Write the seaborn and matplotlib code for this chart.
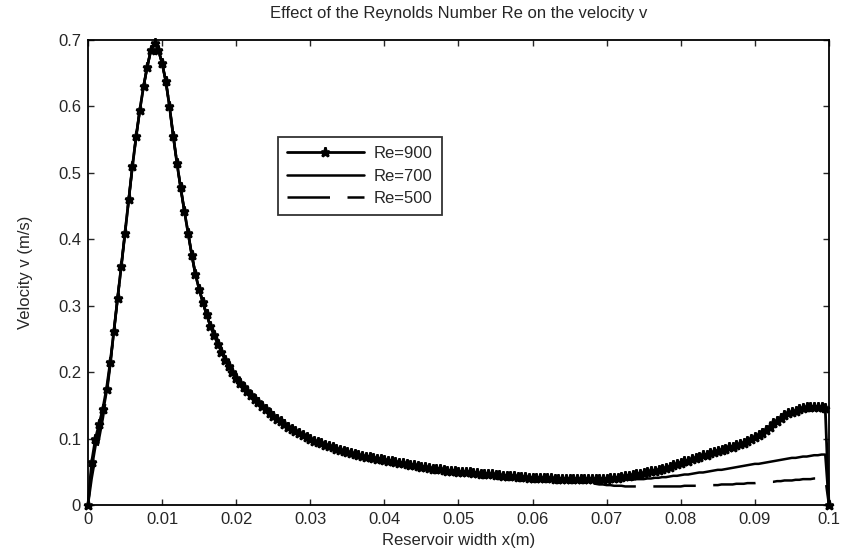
import numpy as np
import pandas as pd
import matplotlib
matplotlib.use("Agg")
import matplotlib.pyplot as plt
import seaborn as sns

# sampling grid of the solver (step 0.0005 m)
x_width = np.round(np.arange(201) * 0.0005, 4)

# first points near the wall (x = 0 .. 0.003)
head_900 = [0.000, 0.065, 0.100, 0.122, 0.145, 0.175, 0.215]
head_700 = [0.000, 0.055, 0.088, 0.112, 0.138, 0.170, 0.213]
head_500 = [0.000, 0.040, 0.072, 0.100, 0.130, 0.165, 0.210]

# common part of the three curves (x = 0.0035 .. 0.065)
mid_all = [
    0.262, 0.312, 0.360, 0.410, 0.460, 0.510, 0.555, 0.595, 0.630, 0.660,
    0.685, 0.695, 0.685, 0.665, 0.638, 0.600, 0.556, 0.515, 0.478, 0.443,
    0.410, 0.377, 0.347, 0.325, 0.305, 0.287, 0.270, 0.256, 0.243, 0.231,
    0.219, 0.209, 0.200, 0.191, 0.184, 0.178, 0.172, 0.166, 0.160, 0.155,
    0.149, 0.144, 0.139, 0.134, 0.130, 0.126, 0.122, 0.118, 0.115, 0.111,
    0.108, 0.105, 0.102, 0.100, 0.097, 0.095, 0.093, 0.091, 0.089, 0.087,
    0.085, 0.083, 0.081, 0.080, 0.078, 0.077, 0.075, 0.074, 0.073, 0.072,
    0.071, 0.070, 0.069, 0.068, 0.067, 0.066, 0.065, 0.064, 0.063, 0.062,
    0.061, 0.060, 0.059, 0.058, 0.057, 0.056, 0.055, 0.055, 0.054, 0.053,
    0.052, 0.052, 0.051, 0.050, 0.050, 0.049, 0.049, 0.048, 0.048, 0.047,
    0.047, 0.046, 0.046, 0.045, 0.045, 0.044, 0.044, 0.043, 0.043, 0.042,
    0.042, 0.042, 0.041, 0.041, 0.041, 0.040, 0.040, 0.040, 0.040, 0.039,
    0.039, 0.039, 0.039, 0.039,
]

# right part, where the curves separate (x = 0.0655 .. 0.1)
tail_900 = [
    0.039, 0.039, 0.039, 0.039, 0.039, 0.039, 0.039, 0.039, 0.039, 0.039,
    0.040, 0.040, 0.041, 0.042, 0.043, 0.044, 0.045, 0.046, 0.047, 0.048,
    0.049, 0.051, 0.052, 0.053, 0.055, 0.056, 0.058, 0.060, 0.062, 0.064,
    0.066, 0.067, 0.069, 0.071, 0.073, 0.075, 0.076, 0.078, 0.080, 0.082,
    0.083, 0.085, 0.087, 0.088, 0.090, 0.092, 0.094, 0.096, 0.099, 0.102,
    0.105, 0.109, 0.113, 0.118, 0.123, 0.127, 0.131, 0.135, 0.138, 0.140,
    0.142, 0.144, 0.146, 0.147, 0.148, 0.148, 0.148, 0.147, 0.146, 0.000,
]
tail_700 = [
    0.038, 0.038, 0.037, 0.037, 0.037, 0.037, 0.037, 0.037, 0.037, 0.037,
    0.037, 0.037, 0.037, 0.038, 0.038, 0.038, 0.038, 0.039, 0.039, 0.039,
    0.040, 0.040, 0.041, 0.041, 0.042, 0.042, 0.043, 0.044, 0.044, 0.045,
    0.046, 0.046, 0.047, 0.048, 0.049, 0.049, 0.050, 0.051, 0.052, 0.053,
    0.053, 0.054, 0.055, 0.056, 0.057, 0.058, 0.059, 0.060, 0.061, 0.062,
    0.062, 0.063, 0.064, 0.065, 0.066, 0.067, 0.068, 0.069, 0.070, 0.071,
    0.071, 0.072, 0.073, 0.073, 0.074, 0.075, 0.075, 0.076, 0.076, 0.000,
]
tail_500 = [
    0.038, 0.037, 0.036, 0.035, 0.034, 0.033, 0.032, 0.031, 0.031, 0.030,
    0.030, 0.029, 0.029, 0.029, 0.028, 0.028, 0.028, 0.028, 0.028, 0.028,
    0.028, 0.028, 0.028, 0.028, 0.028, 0.028, 0.028, 0.028, 0.028, 0.028,
    0.029, 0.029, 0.029, 0.029, 0.029, 0.029, 0.030, 0.030, 0.030, 0.030,
    0.031, 0.031, 0.031, 0.031, 0.032, 0.032, 0.032, 0.033, 0.033, 0.033,
    0.034, 0.034, 0.034, 0.035, 0.035, 0.036, 0.036, 0.037, 0.037, 0.037,
    0.038, 0.038, 0.039, 0.039, 0.039, 0.040, 0.040, 0.040, 0.041, 0.000,
]

v_900 = head_900 + mid_all + tail_900
v_700 = head_700 + mid_all + tail_700
v_500 = head_500 + mid_all + tail_500

df = pd.DataFrame({"x": x_width, "Re=900": v_900, "Re=700": v_700, "Re=500": v_500})

sns.set_style("ticks")
plt.rcParams["font.family"] = ["Liberation Sans", "DejaVu Sans"]
plt.rcParams["xtick.direction"] = "in"
plt.rcParams["ytick.direction"] = "in"

fig = plt.figure(figsize=(8.42, 5.55), dpi=100)
ax = fig.add_axes([0.1045, 0.090, 0.880, 0.838])

sns.lineplot(data=df, x="x", y="Re=900", ax=ax, color="black", lw=2.0,
             marker="*", markersize=6.5, markeredgewidth=1.8,
             markeredgecolor="black", markerfacecolor="black",
             clip_on=False, label="Re=900")
sns.lineplot(data=df, x="x", y="Re=700", ax=ax, color="black", lw=1.8,
             label="Re=700")
sns.lineplot(data=df, x="x", y="Re=500", ax=ax, color="black", lw=1.8,
             linestyle=(0, (17, 7)), label="Re=500")

ax.set_xlim(0, 0.1)
ax.set_ylim(0, 0.7)
ax.set_xticks([0, 0.01, 0.02, 0.03, 0.04, 0.05, 0.06, 0.07, 0.08, 0.09, 0.1])
ax.set_yticks([0, 0.1, 0.2, 0.3, 0.4, 0.5, 0.6, 0.7])
ax.xaxis.set_major_formatter(matplotlib.ticker.FormatStrFormatter("%g"))
ax.yaxis.set_major_formatter(matplotlib.ticker.FormatStrFormatter("%g"))
ax.tick_params(top=True, right=True, length=4, width=1, labelsize=12, pad=5)
for s in ax.spines.values():
    s.set_linewidth(1.3)
    s.set_color("black")

ax.set_title("Effect of the Reynolds Number Re on the velocity v", fontsize=12, pad=16)
ax.set_xlabel("Reservoir width x(m)", fontsize=12, labelpad=4)
ax.set_ylabel("Velocity v (m/s)", fontsize=12, labelpad=18)

leg = ax.legend(loc="upper left", bbox_to_anchor=(0.256, 0.791), fontsize=12,
                frameon=True, fancybox=False, handlelength=4.6, borderpad=0.55,
                labelspacing=0.45, borderaxespad=0.0, handletextpad=0.6)
leg.get_frame().set_edgecolor("black")
leg.get_frame().set_linewidth(1.3)

plt.savefig("out.png", dpi=100)
